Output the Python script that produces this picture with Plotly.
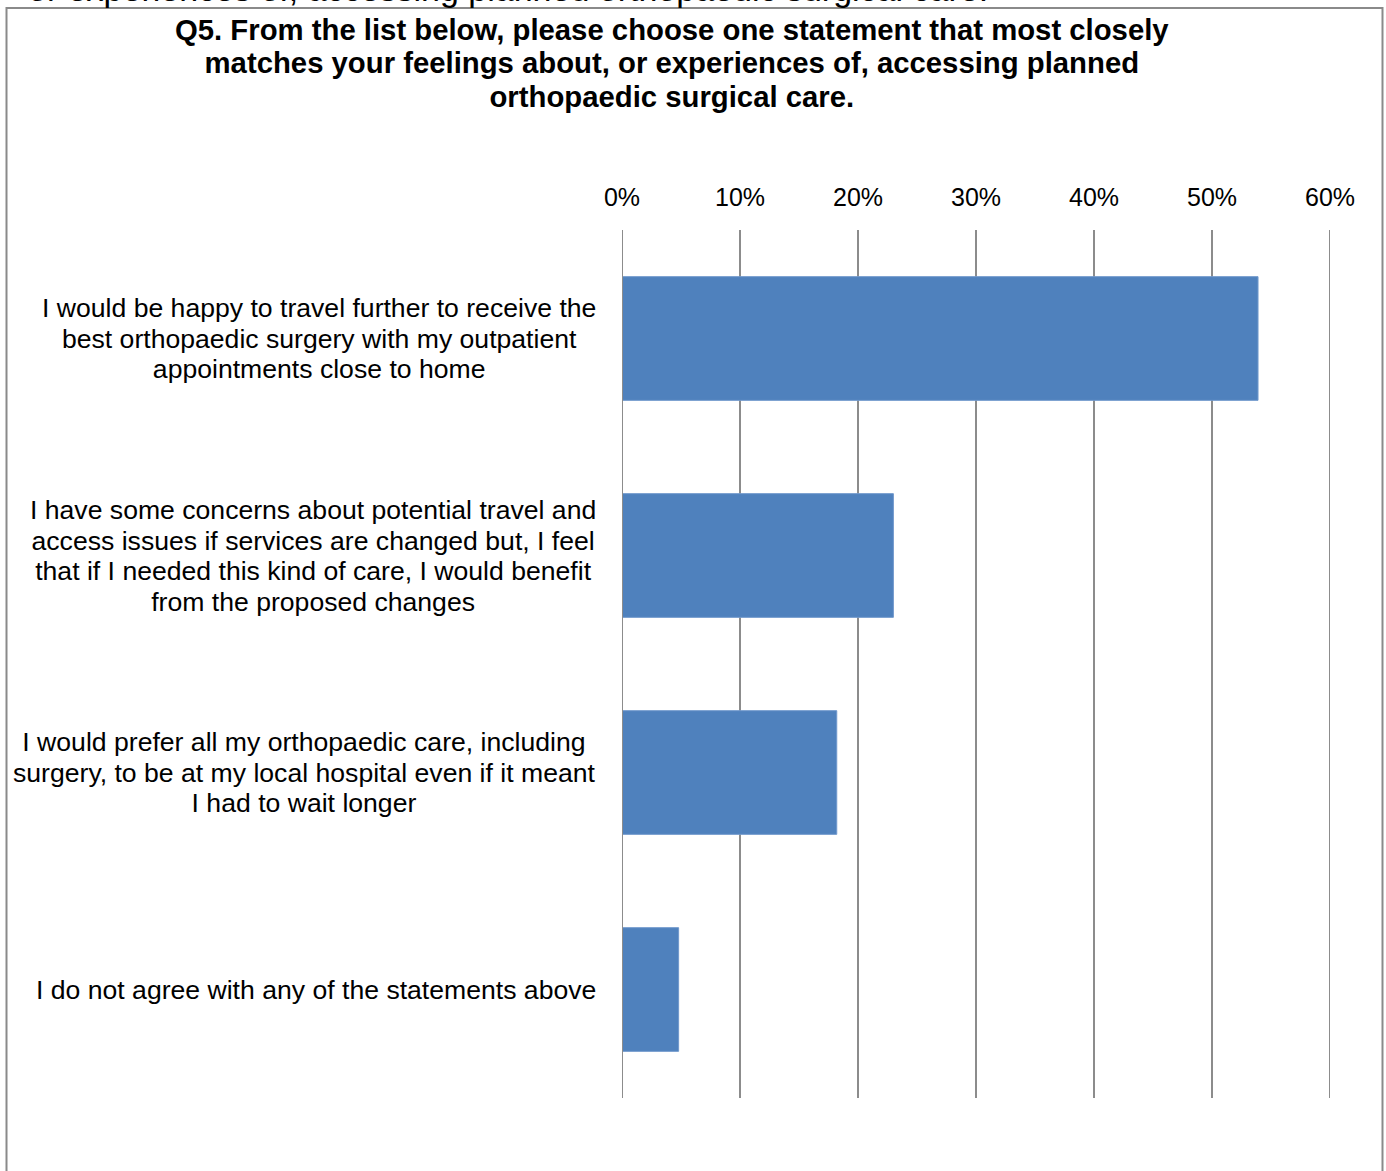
import plotly.graph_objects as go

# Survey question and response statements
title_lines = [
    "Q5. From the list below, please choose one statement that most closely",
    "matches your feelings about, or experiences of, accessing planned",
    "orthopaedic surgical care.",
]
header_fragment = "or experiences of, accessing planned orthopaedic surgical care."

statements = [
    ["I would be happy to travel further to receive the",
     "best orthopaedic surgery with my outpatient",
     "appointments close to home"],
    ["I have some concerns about potential travel and",
     "access issues if services are changed but, I feel",
     "that if I needed this kind of care, I would benefit",
     "from the proposed changes"],
    ["I would prefer all my orthopaedic care, including",
     "surgery, to be at my local hospital even if it meant",
     "I had to wait longer"],
    ["I do not agree with any of the statements above"],
]
shares = [0.539, 0.230, 0.182, 0.048]
x_ticks = [0.0, 0.1, 0.2, 0.3, 0.4, 0.5, 0.6]

W, H = 1386, 1171
L, R, T, B = 622, 56, 230, 73
plot_w = W - L - R
plot_h = H - T - B


def px_x(px):
    return (px - L) / plot_w


def px_y(py):
    return (H - B - py) / plot_h


def block(lines, glyph_px, bold=False):
    """Join lines; glyphs are sized by span so the leading follows the base font."""
    parts = []
    for line in lines:
        t = f'<span style="font-size:{glyph_px}px">{line}</span>'
        parts.append(f"<b>{t}</b>" if bold else t)
    return "<br>".join(parts)


font_family = "Liberation Sans, Arial, sans-serif"
bar_color = "#4F81BD"
grid_color = "#8c8c8c"
label_glyph = 26.6
label_leading = 30.6
title_glyph = 29.3
title_leading = 33.5

keys = list(range(len(statements)))

fig = go.Figure(
    go.Bar(
        x=shares,
        y=keys,
        orientation="h",
        marker=dict(color=bar_color, line=dict(color="#7199cc", width=1)),
        hoverinfo="skip",
    )
)

annotations = []
# Category labels: centred multi-line blocks placed against the plot's left edge
for k, lines in zip(keys, statements):
    annotations.append(dict(
        x=px_x(598), xref="paper", y=k, yref="y",
        text=block(lines, label_glyph), showarrow=False,
        xanchor="right", yanchor="middle", align="center",
        font=dict(size=label_leading / 1.3, color="#000000", family=font_family),
    ))

# Bold chart title
annotations.append(dict(
    x=px_x(672), xref="paper", y=px_y(30 + title_leading), yref="paper",
    text=block(title_lines, title_glyph, bold=True), showarrow=False,
    xanchor="center", yanchor="middle", align="center",
    font=dict(size=title_leading / 1.3, color="#000000", family=font_family),
))

# Running text above the chart frame
annotations.append(dict(
    x=px_x(990), xref="paper", y=px_y(10), yref="paper",
    text=header_fragment, showarrow=False,
    xanchor="right", yanchor="bottom",
    font=dict(size=34, color="#000000", family=font_family),
))

shapes = [dict(
    type="rect", xref="paper", yref="paper",
    x0=px_x(6.5), x1=px_x(1382.5), y0=px_y(1190), y1=px_y(8),
    line=dict(color="#8a8a8a", width=2), fillcolor="rgba(0,0,0,0)",
    layer="below",
)]
# Gridlines at both ends of the value axis
for xv, layer in ((x_ticks[0], "above"), (x_ticks[-1], "below")):
    shapes.append(dict(
        type="line", xref="x", yref="paper", x0=xv, x1=xv, y0=0, y1=1,
        line=dict(color=grid_color, width=2), layer=layer,
    ))

fig.update_layout(
    width=W, height=H,
    margin=dict(l=L, r=R, t=T, b=B, pad=0),
    paper_bgcolor="#ffffff", plot_bgcolor="#ffffff",
    showlegend=False,
    bargap=0.43,
    font=dict(family=font_family, color="#000000"),
    annotations=annotations,
    shapes=shapes,
)

fig.update_xaxes(
    range=[x_ticks[0], x_ticks[-1]], side="top", tickvals=x_ticks, tickformat=".0%",
    showgrid=True, gridcolor=grid_color, gridwidth=2,
    zeroline=False, showline=False, ticks="",
    ticklabelstandoff=18,
    tickfont=dict(size=25, color="#000000", family=font_family),
)
fig.update_yaxes(
    range=[len(statements) - 0.5, -0.5], showticklabels=False,
    showgrid=False, zeroline=False, showline=False, ticks="",
)

fig.write_html("out.html")
